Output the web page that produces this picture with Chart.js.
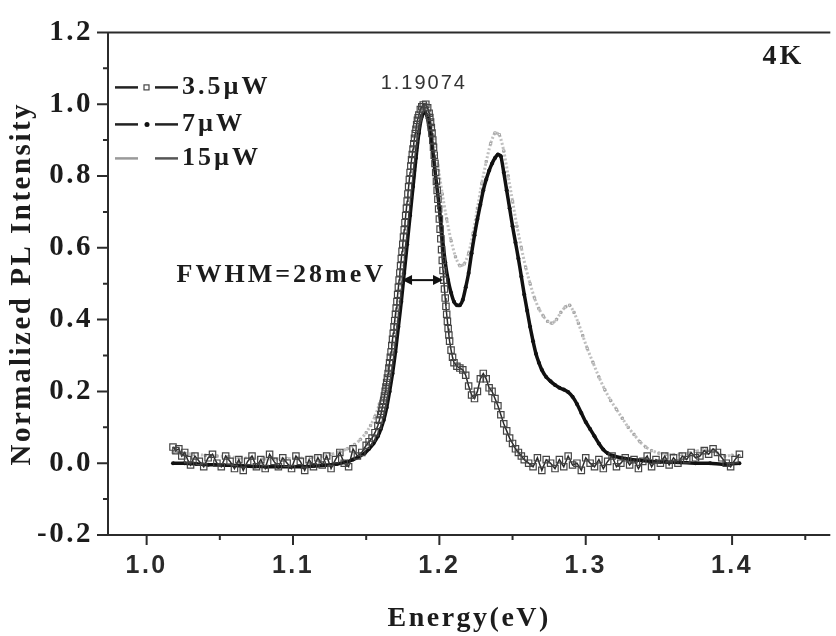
<!DOCTYPE html>
<html>
<head>
<meta charset="utf-8">
<script src="https://cdn.jsdelivr.net/npm/chart.js@4.4.1/dist/chart.umd.min.js"></script>
<style>
  body { margin: 0; background: #fff; }
  canvas { display: block; }
</style>
</head>
<body>
<canvas id="plChart" width="836" height="636"></canvas>
<script>
// PL spectra at 4K, normalized, three excitation powers
var seriesNames = ['3.5\u00b5W', '7\u00b5W', '15\u00b5W'];

var energy35 = [1.018,1.020,1.022,1.024,1.026,1.028,1.030,1.033,1.036,1.039,1.042,1.045,1.048,1.051,1.054,1.057,1.060,1.063,1.066,1.069,
  1.072,1.075,1.078,1.081,1.084,1.087,1.090,1.093,1.096,1.099,1.102,1.105,1.108,1.111,1.114,1.117,1.120,1.123,1.126,1.129,
  1.132,1.135,1.138,1.141,1.144,1.147,1.150,1.152,1.154,1.156,1.158,1.159,
  1.1600,1.1605,1.1610,1.1615,1.1620,1.1625,1.1630,1.1635,1.1640,1.1645,1.1650,1.1655,1.1660,1.1665,1.1670,1.1675,1.1680,1.1685,1.1690,1.1695,
  1.1700,1.1705,1.1710,1.1715,1.1720,1.1725,1.1730,1.1735,1.1740,1.1745,1.1750,1.1755,1.1760,1.1765,1.1770,1.1775,1.1780,1.1785,1.1790,1.1795,
  1.1800,1.1805,1.1810,1.1815,1.1820,1.1825,1.1830,1.1835,1.1840,1.1845,1.1850,1.1855,1.1860,1.1870,1.1880,1.1890,1.19074,1.1920,1.1930,1.1935,
  1.1940,1.1945,1.1950,1.1955,1.1960,1.1965,1.1970,1.1975,1.1980,1.1985,1.1990,1.1995,1.2000,1.2005,1.2010,1.2015,1.2020,1.2025,1.2030,1.2035,
  1.2040,1.2045,1.2050,1.2055,1.2060,1.2065,1.2070,1.2080,1.2090,1.2100,1.212,1.214,1.216,1.218,1.220,1.222,1.224,1.226,1.228,1.230,
  1.232,1.234,1.236,1.238,1.240,1.242,1.244,1.246,1.248,1.250,1.252,1.254,1.256,1.258,
  1.261,1.264,1.267,1.270,1.273,1.276,1.279,1.282,1.285,1.288,1.291,1.294,1.297,1.300,1.303,1.306,1.309,1.312,1.315,1.318,
  1.321,1.324,1.327,1.330,1.333,1.336,1.339,1.342,1.345,1.348,1.351,1.354,1.357,1.360,1.363,1.366,1.369,1.372,1.375,1.378,
  1.381,1.384,1.387,1.390,1.393,1.396,1.399,1.402,1.405];
var pl35 = [0.045,0.035,0.04,0.02,0.03,0.01,-0.005,0.02,0.005,-0.01,0.015,0.025,0.0,-0.01,0.02,0.005,-0.015,0.01,-0.02,0.005,
  0.02,-0.01,0.01,-0.015,0.025,0.005,-0.01,0.015,0.0,-0.015,0.02,0.005,-0.02,0.01,-0.01,0.015,-0.005,0.02,-0.015,0.01,
  0.03,0.0,-0.01,0.04,0.02,0.03,0.05,0.06,0.07,0.085,0.105,0.12,
  0.135,0.145,0.155,0.165,0.175,0.187,0.2,0.212,0.225,0.237,0.25,0.265,0.28,0.295,0.31,0.328,0.345,0.362,0.38,0.397,
  0.415,0.432,0.45,0.47,0.49,0.51,0.53,0.55,0.57,0.59,0.61,0.63,0.65,0.67,0.69,0.71,0.73,0.75,0.77,0.79,
  0.81,0.828,0.845,0.86,0.875,0.89,0.905,0.918,0.93,0.943,0.955,0.962,0.97,0.985,0.993,0.998,1.0,0.99,0.975,0.963,
  0.95,0.935,0.92,0.9,0.88,0.858,0.835,0.81,0.785,0.76,0.735,0.708,0.68,0.652,0.625,0.595,0.565,0.537,0.51,0.485,
  0.46,0.437,0.415,0.395,0.375,0.357,0.34,0.315,0.295,0.28,0.27,0.265,0.26,0.245,0.215,0.19,0.18,0.2,0.235,0.25,
  0.235,0.21,0.2,0.18,0.16,0.135,0.11,0.09,0.07,0.055,0.04,0.03,0.02,0.01,
  0.0,-0.01,0.015,-0.02,0.01,0.0,-0.015,0.01,-0.01,0.02,-0.005,0.0,-0.02,0.015,0.0,-0.01,0.01,-0.015,0.005,0.02,
  -0.01,0.0,0.015,-0.005,0.01,-0.015,0.005,0.02,-0.01,0.01,0.0,0.02,-0.005,0.015,0.0,0.02,0.01,0.03,0.015,0.02,
  0.035,0.025,0.04,0.03,0.015,0.0,-0.01,0.01,0.025,0.01,0.0];

var energy7 = [1.018,1.026,1.034,1.042,1.050,1.058,1.066,1.074,1.082,1.090,1.098,1.106,1.114,1.122,1.130,1.136,1.141,1.145,1.149,1.152,
  1.155,1.158,1.160,1.162,1.164,1.166,1.168,1.170,1.172,1.174,1.176,1.178,1.180,1.182,1.184,1.186,1.188,1.190,1.192,1.194,
  1.196,1.198,1.200,1.202,1.204,1.206,1.208,1.210,1.212,1.214,1.216,1.218,1.220,1.222,1.224,1.226,1.228,1.230,1.232,1.234,
  1.236,1.238,1.240,1.242,1.244,1.246,1.248,1.250,1.252,1.254,1.256,1.258,1.260,1.262,1.264,1.266,1.268,1.270,1.273,1.276,
  1.279,1.282,1.285,1.288,1.291,1.294,1.297,1.300,1.303,1.306,1.309,1.312,1.315,1.319,1.324,1.330,1.337,1.345,1.355,1.365,
  1.375,1.385,1.395,1.405];
var pl7 = [0.0,0.0,-0.002,-0.004,-0.005,-0.006,-0.008,-0.009,-0.01,-0.01,-0.01,-0.01,-0.008,-0.006,-0.002,0.003,0.01,0.018,0.028,0.04,
  0.055,0.075,0.095,0.12,0.155,0.2,0.25,0.31,0.38,0.45,0.53,0.61,0.69,0.77,0.85,0.92,0.965,0.98,0.96,0.91,
  0.85,0.78,0.71,0.63,0.56,0.51,0.475,0.45,0.44,0.44,0.455,0.49,0.53,0.585,0.635,0.68,0.72,0.76,0.79,0.815,
  0.835,0.85,0.86,0.855,0.81,0.76,0.71,0.66,0.615,0.57,0.52,0.47,0.425,0.38,0.34,0.305,0.28,0.26,0.24,0.228,
  0.218,0.21,0.205,0.198,0.185,0.165,0.14,0.115,0.095,0.075,0.055,0.038,0.028,0.02,0.015,0.011,0.008,0.005,0.003,0.002,
  0.0,0.0,-0.003,0.0];

var energy15 = [1.018,1.025,1.032,1.040,1.048,1.056,1.064,1.072,1.080,1.088,1.096,1.104,1.112,1.120,1.126,1.132,1.137,1.142,1.146,1.150,
  1.153,1.156,1.159,1.162,1.165,1.168,1.171,1.174,1.177,1.180,1.183,1.185,1.187,1.189,1.191,1.193,1.195,1.197,1.199,1.202,
  1.205,1.208,1.211,1.214,1.217,1.220,1.223,1.226,1.229,1.232,1.235,1.238,1.241,1.244,1.247,1.250,1.253,1.256,1.259,1.262,
  1.265,1.268,1.271,1.274,1.277,1.280,1.283,1.286,1.289,1.292,1.295,1.298,1.301,1.305,1.309,1.313,1.317,1.321,1.325,1.329,
  1.333,1.337,1.341,1.345,1.350,1.355,1.360,1.365,1.370,1.375,1.380,1.385,1.390,1.395,1.400,1.405];
var pl15 = [0.03,0.028,0.025,0.022,0.02,0.018,0.015,0.014,0.012,0.012,0.013,0.014,0.016,0.02,0.025,0.032,0.04,0.052,0.066,0.085,
  0.105,0.13,0.165,0.21,0.265,0.33,0.41,0.5,0.6,0.7,0.8,0.88,0.95,0.99,1.0,0.98,0.94,0.89,0.83,0.75,
  0.68,0.62,0.575,0.55,0.555,0.585,0.64,0.71,0.78,0.84,0.89,0.92,0.915,0.87,0.8,0.73,0.66,0.6,0.545,0.5,
  0.46,0.43,0.41,0.395,0.39,0.4,0.42,0.435,0.44,0.42,0.39,0.355,0.32,0.28,0.24,0.205,0.175,0.15,0.125,0.1,
  0.08,0.06,0.045,0.035,0.028,0.025,0.024,0.025,0.028,0.033,0.038,0.036,0.028,0.02,0.022,0.02];

// axis ranges and ticks
var xMin = 0.9736, xMax = 1.4671;
var yMin = -0.2, yMax = 1.2;
var xMajorTicks = [1.0, 1.1, 1.2, 1.3, 1.4];
var xMinorTicks = [1.05, 1.15, 1.25, 1.35, 1.45];
var yMajorTicks = [-0.2, 0.0, 0.2, 0.4, 0.6, 0.8, 1.0, 1.2];
var yMinorTicks = [-0.1, 0.1, 0.3, 0.5, 0.7, 0.9, 1.1];

// annotations
var peakEnergy = 1.19074;
var fwhmLeft = 1.1745, fwhmRight = 1.2025, fwhmLevel = 0.51;

var SERIF = "'Liberation Serif', 'Times New Roman', serif";
var SANS = "'Liberation Sans', Arial, sans-serif";
var ink = '#1c1c1c';

function toPoints(xs, ys) {
  return xs.map(function (x, i) { return { x: x, y: ys[i] }; });
}

// the figure's lettering is set a little loose
var spacing = {
  id: 'spacing',
  beforeUpdate: function (chart) { chart.ctx.letterSpacing = '2.5px'; },
  beforeDraw: function (chart) { chart.ctx.letterSpacing = '2.5px'; }
};

var frame = {
  id: 'frame',
  beforeDatasetsDraw: function (chart) {
    var ctx = chart.ctx, a = chart.chartArea, xs = chart.scales.x, ys = chart.scales.y;
    ctx.save();
    ctx.strokeStyle = '#2b2b2b';
    ctx.lineWidth = 2;
    ctx.beginPath();
    ctx.moveTo(a.right, a.top);
    ctx.lineTo(a.left, a.top);
    ctx.lineTo(a.left, a.bottom);
    ctx.lineTo(a.right, a.bottom);
    yMajorTicks.forEach(function (v) {
      var p = ys.getPixelForValue(v);
      ctx.moveTo(a.left - 11, p); ctx.lineTo(a.left, p);
    });
    yMinorTicks.forEach(function (v) {
      var p = ys.getPixelForValue(v);
      ctx.moveTo(a.left - 5, p); ctx.lineTo(a.left, p);
    });
    xMajorTicks.forEach(function (v) {
      var p = xs.getPixelForValue(v);
      ctx.moveTo(p, a.bottom); ctx.lineTo(p, a.bottom + 10);
    });
    xMinorTicks.forEach(function (v) {
      var p = xs.getPixelForValue(v);
      ctx.moveTo(p, a.bottom); ctx.lineTo(p, a.bottom + 5);
    });
    ctx.stroke();
    ctx.restore();
  }
};

var notes = {
  id: 'notes',
  afterDraw: function (chart) {
    var ctx = chart.ctx, a = chart.chartArea, xs = chart.scales.x, ys = chart.scales.y;
    ctx.save();
    ctx.letterSpacing = '3px';
    ctx.fillStyle = ink;
    ctx.textBaseline = 'middle';

    // legend
    var rows = [a.top + 55, a.top + 92, a.top + 126];
    var x0 = a.left + 7;
    ctx.font = 'bold 26px ' + SERIF;
    rows.forEach(function (ry, i) {
      ctx.lineWidth = 2.5;
      ctx.strokeStyle = i === 2 ? '#9a9a9a' : '#222';
      ctx.beginPath();
      ctx.moveTo(x0, ry); ctx.lineTo(x0 + 23, ry);
      ctx.stroke();
      ctx.strokeStyle = i === 2 ? '#555' : '#222';
      ctx.beginPath();
      ctx.moveTo(x0 + 40, ry); ctx.lineTo(x0 + 63, ry);
      ctx.stroke();
      if (i === 0) {
        ctx.lineWidth = 1.2;
        ctx.strokeStyle = '#444';
        ctx.strokeRect(x0 + 29, ry - 2.5, 5, 5);
      } else if (i === 1) {
        ctx.beginPath();
        ctx.arc(x0 + 32, ry, 2.5, 0, Math.PI * 2);
        ctx.fillStyle = '#111';
        ctx.fill();
      }
      ctx.fillStyle = ink;
      ctx.textAlign = 'left';
      ctx.fillText(seriesNames[i], x0 + 67, ry);
    });

    // temperature
    ctx.font = 'bold 28px ' + SERIF;
    ctx.textAlign = 'center';
    ctx.fillText('4K', a.right - 47, a.top + 24);

    // FWHM marker
    var yl = ys.getPixelForValue(fwhmLevel);
    var xl = xs.getPixelForValue(fwhmLeft), xr = xs.getPixelForValue(fwhmRight);
    ctx.strokeStyle = '#111';
    ctx.fillStyle = '#111';
    ctx.lineWidth = 2;
    ctx.beginPath();
    ctx.moveTo(xl + 6, yl); ctx.lineTo(xr - 6, yl);
    ctx.stroke();
    ctx.beginPath();
    ctx.moveTo(xl, yl); ctx.lineTo(xl + 10, yl - 5); ctx.lineTo(xl + 10, yl + 5); ctx.closePath();
    ctx.moveTo(xr, yl); ctx.lineTo(xr - 10, yl - 5); ctx.lineTo(xr - 10, yl + 5); ctx.closePath();
    ctx.fill();
    ctx.fillStyle = ink;
    ctx.font = 'bold 26px ' + SERIF;
    ctx.textAlign = 'right';
    ctx.fillText('FWHM=28meV', xl - 16, yl - 5);

    // peak position
    ctx.letterSpacing = '2px';
    ctx.font = '20px ' + SANS;
    ctx.fillStyle = '#333';
    ctx.textAlign = 'center';
    ctx.fillText(String(peakEnergy), xs.getPixelForValue(peakEnergy) - 2, ys.getPixelForValue(1.0) - 21);
    ctx.restore();
  }
};

var ctx = document.getElementById('plChart');

var chart = new Chart(ctx, {
  type: 'line',
  data: {
    datasets: [
      {
        label: seriesNames[0],
        data: toPoints(energy35, pl35),
        borderColor: '#2a2a2a',
        borderWidth: 1.5,
        pointStyle: 'rect',
        pointRadius: 4.5,
        pointBorderWidth: 1.2,
        pointBorderColor: '#454545',
        pointBackgroundColor: 'rgba(255,255,255,0)',
        tension: 0
      },
      {
        label: seriesNames[1],
        data: toPoints(energy7, pl7),
        borderColor: '#111',
        borderWidth: 3.5,
        pointStyle: 'circle',
        pointRadius: 2,
        pointBorderWidth: 0,
        pointBackgroundColor: '#111',
        tension: 0.2
      },
      {
        label: seriesNames[2],
        data: toPoints(energy15, pl15),
        borderColor: 'rgba(150,150,150,0.6)',
        borderWidth: 3,
        borderDash: [2, 2],
        pointStyle: 'rect',
        pointRadius: 1.6,
        pointBorderWidth: 0.8,
        pointBorderColor: '#999',
        pointBackgroundColor: 'rgba(255,255,255,0)',
        tension: 0.2
      }
    ]
  },
  options: {
    responsive: false,
    animation: false,
    events: [],
    layout: { padding: { top: 28, right: 0, bottom: 0, left: 0 } },
    plugins: {
      legend: { display: false },
      tooltip: { enabled: false }
    },
    scales: {
      x: {
        type: 'linear',
        min: xMin,
        max: xMax,
        grid: { display: false, drawTicks: false },
        border: { display: false },
        afterFit: function (scale) { scale.height = 101; },
        afterBuildTicks: function (scale) {
          scale.ticks = xMajorTicks.map(function (v) { return { value: v }; });
        },
        ticks: {
          autoSkip: false,
          maxRotation: 0,
          padding: 16,
          color: '#2a2a2a',
          font: { family: SANS, size: 25, weight: 'bold', lineHeight: 1.2 },
          callback: function (v) { return v.toFixed(1); }
        },
        title: {
          display: true,
          text: 'Energy(eV)',
          color: ink,
          font: { family: SERIF, size: 28, weight: 'bold', lineHeight: 1.2 },
          padding: { top: 0, bottom: 0 }
        }
      },
      y: {
        type: 'linear',
        min: yMin,
        max: yMax,
        grid: { display: false, drawTicks: false },
        border: { display: false },
        afterFit: function (scale) { scale.width = 108; },
        afterBuildTicks: function (scale) {
          scale.ticks = yMajorTicks.map(function (v) { return { value: v }; });
        },
        ticks: {
          autoSkip: false,
          padding: 15,
          color: ink,
          font: { family: SERIF, size: 29, weight: 'bold', lineHeight: 1.2 },
          callback: function (v) { return v.toFixed(1); }
        },
        title: {
          display: true,
          text: 'Normalized PL Intensity',
          color: ink,
          font: { family: SERIF, size: 29, weight: 'bold', lineHeight: 1.2 },
          padding: { top: 5, bottom: 0 }
        }
      }
    }
  },
  plugins: [spacing, frame, notes]
});
</script>
</body>
</html>
